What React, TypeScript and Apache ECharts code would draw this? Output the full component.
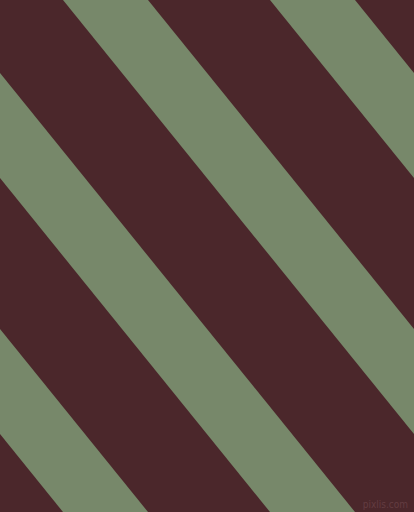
import React, { useEffect, useRef } from 'react';
import * as echarts from 'echarts';

// x position (px) where each green band meets the top edge
const stripeStarts = [-351, -144, 63, 270];
// band width measured along the top edge
const stripeWidths = [85, 85, 85, 85];
// horizontal drift of a band between top and bottom edge
const stripeDrift = [414, 414, 414, 414];

const BG = '#4b272b';
const GREEN = '#77886a';

export default function App() {
  const chartRef = useRef<HTMLDivElement>(null);

  useEffect(() => {
    if (!chartRef.current) return;
    const chart = echarts.init(chartRef.current, null, { renderer: 'svg' });

    const data = stripeStarts.map((s, i) => [s, stripeWidths[i], stripeDrift[i]]);

    const option: echarts.EChartsOption = {
      animation: false,
      backgroundColor: BG,
      grid: { left: 0, right: 0, top: 0, bottom: 0 },
      xAxis: { type: 'value', min: 0, max: 414, show: false },
      yAxis: { type: 'value', min: 0, max: 512, inverse: true, show: false },
      graphic: [
        {
          type: 'text',
          right: 6,
          bottom: 3,
          z: 100,
          style: {
            text: 'pixlis.com',
            fill: '#633c41',
            font: '10px "DejaVu Sans Condensed", "DejaVu Sans", sans-serif',
          },
        },
      ],
      series: [
        {
          type: 'custom',
          clip: true,
          data,
          renderItem: (params: any, api: any) => {
            const s = api.value(0);
            const w = api.value(1);
            const d = api.value(2);
            const pts = [
              api.coord([s, 0]),
              api.coord([s + w, 0]),
              api.coord([s + w + d, 512]),
              api.coord([s + d, 512]),
            ];
            return {
              type: 'polygon',
              shape: { points: pts },
              style: { fill: GREEN },
            };
          },
        },
      ],
    };

    chart.setOption(option);
    return () => chart.dispose();
  }, []);

  return (
    <div
      ref={chartRef}
      style={{ position: 'fixed', left: 0, top: 0, width: 414, height: 512 }}
    />
  );
}
